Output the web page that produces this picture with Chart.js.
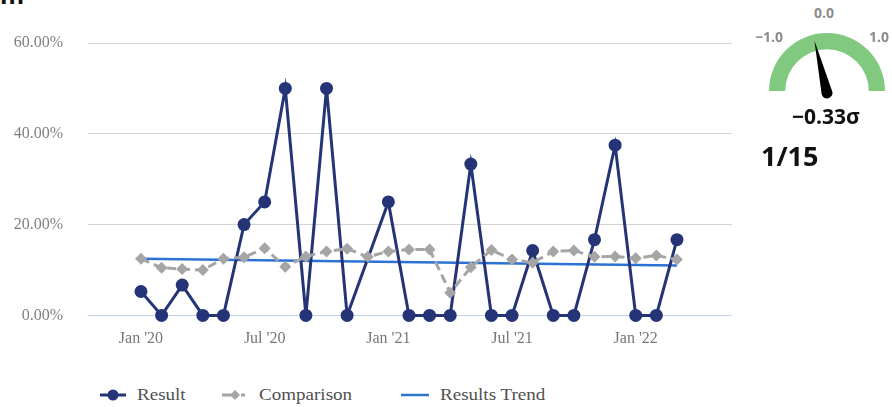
<!DOCTYPE html>
<html>
<head>
    <title>Result vs Comparison</title>
    <script src="https://cdn.jsdelivr.net/npm/chart.js"></script>
    <style>
        body {
            margin: 0;
            width: 892px;
            height: 407px;
            position: relative;
            overflow: hidden;
            background: #fff;
            font-family: 'Liberation Serif', serif;
        }
        #mainBox { position: absolute; left: 0; top: 0; width: 740px; height: 350px; }
        #gaugeBox { position: absolute; left: 769px; top: 33px; width: 116px; height: 66px; }
        .corner { position: absolute; left: 0; top: -20px; font: bold 27px 'Liberation Sans', sans-serif; color: #111; }
        .legend-item { position: absolute; top: 385px; display: flex; align-items: center; font-size: 17px; color: #505050; }
        .legend-item svg { margin-right: 11px; }
        .legend-item span { display: inline-block; transform: scaleX(1.12); transform-origin: left center; }
        .g { position: absolute; font-family: 'Open Sans', sans-serif; font-weight: bold; white-space: nowrap; }
        .g.small { font-size: 14px; color: #8c8c8c; }
    </style>
</head>
<body>
    <div class="corner">m</div>
    <div id="mainBox"><canvas id="mainChart"></canvas></div>

    <div class="legend-item" style="left:100px">
        <svg width="26" height="14"><line x1="0" y1="7" x2="26" y2="7" stroke="#243477" stroke-width="3"/><circle cx="13" cy="7" r="5.5" fill="#243477"/></svg><span>Result</span>
    </div>
    <div class="legend-item" style="left:222px">
        <svg width="26" height="14"><line x1="0" y1="7" x2="13" y2="7" stroke="#a5a5a5" stroke-width="3"/><line x1="19" y1="7" x2="23" y2="7" stroke="#a5a5a5" stroke-width="3"/><polygon points="13,2 18,7 13,12 8,7" fill="#a5a5a5"/></svg><span>Comparison</span>
    </div>
    <div class="legend-item" style="left:401px">
        <svg width="28" height="14"><line x1="0" y1="7" x2="28" y2="7" stroke="#2f74d0" stroke-width="2.5"/></svg><span>Results Trend</span>
    </div>

    <div id="gaugeBox"><canvas id="gaugeChart"></canvas></div>
    <div class="g small" style="left:814px; top:3px">0.0</div>
    <div class="g small" style="left:755px; top:27px">&minus;1.0</div>
    <div class="g small" style="left:869px; top:27px">1.0</div>
    <div class="g" style="left:792px; top:102px; font-size:21px; color:#111">&minus;0.33&sigma;</div>
    <div class="g" style="left:761px; top:137px; font-size:27px; color:#111">1/15</div>

    <script>
        // monthly data, Jan '20 .. Mar '22
        const months = ["Jan '20", "Feb '20", "Mar '20", "Apr '20", "May '20", "Jun '20",
                        "Jul '20", "Aug '20", "Sep '20", "Oct '20", "Nov '20", "Dec '20",
                        "Jan '21", "Feb '21", "Mar '21", "Apr '21", "May '21", "Jun '21",
                        "Jul '21", "Aug '21", "Sep '21", "Oct '21", "Nov '21", "Dec '21",
                        "Jan '22", "Feb '22", "Mar '22"];
        const result = [5.26, 0, 6.67, 0, 0, 20, 25, 50, 0, 50, 0, null,
                        25, 0, 0, 0, 33.33, 0, 0, 14.29, 0, 0, 16.67, 37.5,
                        0, 0, 16.67];
        const comparison = [12.5, 10.5, 10.2, 10.0, 12.5, 12.8, 14.8, 10.7, 13.0, 14.1, 14.7, 12.9,
                            14.1, 14.5, 14.5, 5.0, 10.6, 14.4, 12.3, 11.6, 14.1, 14.3, 12.9, 13.0,
                            12.6, 13.2, 12.3];
        const trendIdx = [0, 26];
        const trendVals = [12.5, 11.0];
        const xTickIdx = [0, 6, 12, 18, 24];

        // gauge
        const gaugeValue = -0.33;
        const gaugeMin = -2.2;
        const gaugeMax = 2.2;

        const toXY = arr => arr.map((v, i) => ({x: i, y: v}));
        const tickFont = {family: 'Liberation Serif', size: 16};

        new Chart(document.getElementById('mainChart'), {
            type: 'line',
            data: {
                datasets: [{
                    label: 'Comparison',
                    data: toXY(comparison),
                    borderColor: '#a5a5a5',
                    backgroundColor: '#a5a5a5',
                    borderWidth: 3,
                    borderDash: [9, 5],
                    pointStyle: 'rectRot',
                    pointRadius: 6,
                    pointBorderWidth: 0,
                    clip: false,
                    order: 1
                }, {
                    label: 'Result',
                    data: toXY(result),
                    borderColor: '#243477',
                    backgroundColor: '#243477',
                    borderWidth: 3,
                    pointRadius: 6.5,
                    pointBorderWidth: 0,
                    spanGaps: true,
                    clip: false,
                    order: 2
                }, {
                    label: 'Results Trend',
                    data: trendIdx.map((x, i) => ({x: x, y: trendVals[i]})),
                    borderColor: '#2a72d4',
                    borderWidth: 2.5,
                    pointRadius: 0,
                    order: 3
                }]
            },
            options: {
                responsive: true,
                maintainAspectRatio: false,
                animation: false,
                events: [],
                layout: {padding: {top: 43, right: 8, bottom: 4, left: 0}},
                plugins: {legend: {display: false}, tooltip: {enabled: false}},
                scales: {
                    x: {
                        type: 'linear',
                        min: -2.57,
                        max: 28.67,
                        grid: {display: false},
                        border: {display: false},
                        ticks: {
                            color: '#777',
                            font: tickFont,
                            padding: 6,
                            maxRotation: 0,
                            autoSkip: false,
                            callback: v => months[v]
                        },
                        afterBuildTicks: axis => { axis.ticks = xTickIdx.map(v => ({value: v})); },
                        afterFit: axis => { axis.height = 30; }
                    },
                    y: {
                        min: 0,
                        max: 60,
                        grid: {
                            drawTicks: false,
                            color: c => c.tick && c.tick.value === 0 ? '#c3d5ee' : '#d3d3d3'
                        },
                        border: {display: false},
                        ticks: {
                            stepSize: 20,
                            padding: 25,
                            color: '#808080',
                            font: tickFont,
                            callback: v => v.toFixed(2) + '%'
                        },
                        afterFit: axis => { axis.width = 88; }
                    }
                }
            }
        });

        const needle = {
            id: 'needle',
            afterDraw(chart) {
                const arc = chart.getDatasetMeta(0).data[0];
                const ctx = chart.ctx;
                const frac = (gaugeValue - gaugeMin) / (gaugeMax - gaugeMin);
                const a = Math.PI + frac * Math.PI;
                const len = arc.outerRadius * 0.93;
                const cx = arc.x, cy = arc.y + 2;
                ctx.save();
                ctx.fillStyle = '#000';
                ctx.beginPath();
                ctx.moveTo(cx + Math.cos(a) * len, cy + Math.sin(a) * len);
                ctx.lineTo(cx + Math.cos(a + Math.PI / 2) * 5.5, cy + Math.sin(a + Math.PI / 2) * 5.5);
                ctx.arc(cx, cy, 5.5, a + Math.PI / 2, a - Math.PI / 2);
                ctx.closePath();
                ctx.fill();
                ctx.restore();
            }
        };

        new Chart(document.getElementById('gaugeChart'), {
            type: 'doughnut',
            data: {datasets: [{data: [1], backgroundColor: ['#80c97f'], borderWidth: 0}]},
            options: {
                responsive: true,
                maintainAspectRatio: false,
                animation: false,
                events: [],
                rotation: -90,
                circumference: 180,
                cutout: '72%',
                layout: {padding: {bottom: 8}},
                plugins: {legend: {display: false}, tooltip: {enabled: false}}
            },
            plugins: [needle]
        });
    </script>
</body>
</html>
